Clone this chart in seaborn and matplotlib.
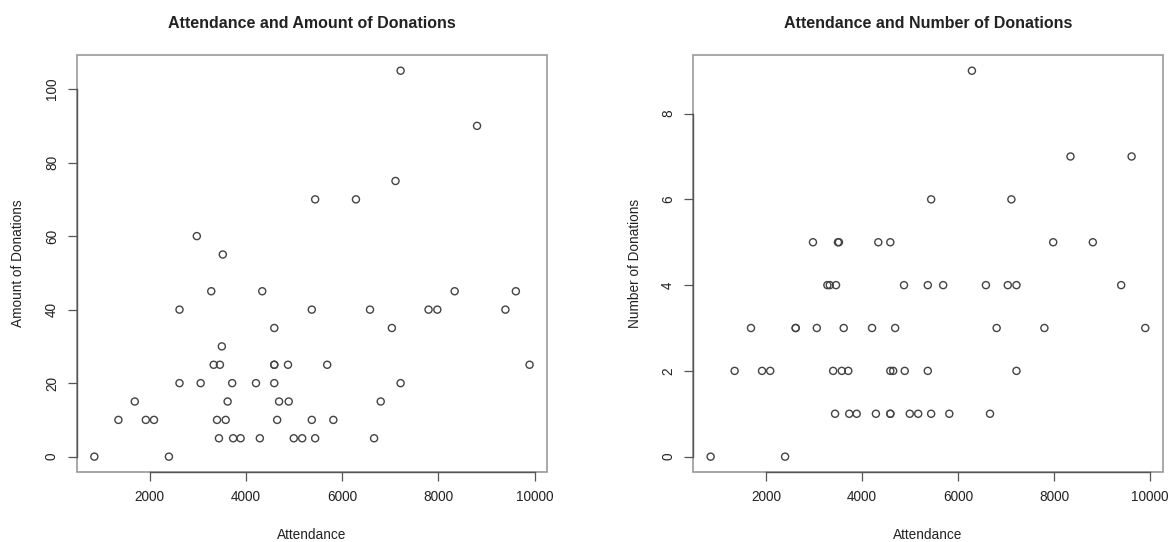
import pandas as pd
import matplotlib.pyplot as plt
import seaborn as sns

attendance = [850, 2400, 1350, 1920, 2090, 1690, 2620, 2620, 2980, 3060,
              3280, 3330, 3460, 3400, 3440, 3500, 3520, 3580, 3620, 3715,
              3735, 3890, 4210, 4290, 4340, 4590, 4590, 4590, 4590, 4650,
              4690, 4875, 4890, 4995, 5170, 5370, 5370, 5440, 5440, 5690,
              5818, 6288, 6580, 6665, 6803, 7035, 7110, 7216, 7216, 7797,
              7980, 8340, 8805, 9395, 9612, 9897]
amount = [0, 0, 10, 10, 10, 15, 20, 40, 60, 20,
          45, 25, 25, 10, 5, 30, 55, 10, 15, 20,
          5, 5, 20, 5, 45, 35, 25, 25, 20, 10,
          15, 25, 15, 5, 5, 40, 10, 70, 5, 25,
          10, 70, 40, 5, 15, 35, 75, 105, 20, 40,
          40, 45, 90, 40, 45, 25]
number = [0, 0, 2, 2, 2, 3, 3, 3, 5, 3,
          4, 4, 4, 2, 1, 5, 5, 2, 3, 2,
          1, 1, 3, 1, 5, 5, 2, 1, 1, 2,
          3, 4, 2, 1, 1, 4, 2, 6, 1, 4,
          1, 9, 4, 1, 3, 4, 6, 4, 2, 3,
          5, 7, 5, 4, 7, 3]

x_ticks = [2000, 4000, 6000, 8000, 10000]
amount_ticks = [0, 20, 40, 60, 80, 100]
number_ticks = [0, 2, 4, 6, 8]

TEXT = '#222222'


def style_axis(ax, title, ylabel, yticks):
    ax.margins(x=0.04, y=0.04)
    ax.set_xticks(x_ticks)
    ax.set_yticks(yticks)
    ax.set_xticklabels([str(t) for t in x_ticks])
    ax.set_yticklabels([str(t) for t in yticks], rotation=90, va='center')
    ax.set_title(title, fontsize=11.5, fontweight='bold', color=TEXT, pad=20)
    ax.set_xlabel('Attendance', fontsize=9.8, color=TEXT, labelpad=17)
    ax.set_ylabel(ylabel, fontsize=9.8, color=TEXT, labelpad=14)
    ax.tick_params(axis='both', which='major', direction='out',
                   bottom=True, left=True, top=False, right=False,
                   length=6.5, width=0.9, color='#555555',
                   labelsize=9.8, labelcolor=TEXT, pad=6.5)
    # R style: light box around the plot, darker axis lines spanning the ticks
    ax.patch.set_edgecolor('#9a9a9a')
    ax.patch.set_linewidth(1.2)
    for side in ['top', 'right']:
        ax.spines[side].set_visible(False)
    for side in ['left', 'bottom']:
        ax.spines[side].set_color('#555555')
        ax.spines[side].set_linewidth(1.0)
    ax.spines['bottom'].set_bounds(x_ticks[0], x_ticks[-1])
    ax.spines['left'].set_bounds(yticks[0], yticks[-1])


def main():
    sns.set_style('ticks')
    plt.rcParams['font.family'] = ['Liberation Sans', 'DejaVu Sans']

    df = pd.DataFrame({'Attendance': attendance,
                       'Amount': amount,
                       'Number': number})

    fig = plt.figure(figsize=(11.73, 5.42), dpi=100)
    ax1 = fig.add_axes([0.0656, 0.129, 0.4007, 0.769])
    ax2 = fig.add_axes([0.591, 0.129, 0.4002, 0.769])

    for ax, col in [(ax1, 'Amount'), (ax2, 'Number')]:
        sns.scatterplot(data=df, x='Attendance', y=col, ax=ax, marker='o',
                        s=26, facecolor='none', edgecolor='#444444',
                        linewidth=1.0, legend=False)

    style_axis(ax1, 'Attendance and Amount of Donations',
               'Amount of Donations', amount_ticks)
    style_axis(ax2, 'Attendance and Number of Donations',
               'Number of Donations', number_ticks)

    fig.savefig('out.png', dpi=100)


if __name__ == "__main__":
    main()
